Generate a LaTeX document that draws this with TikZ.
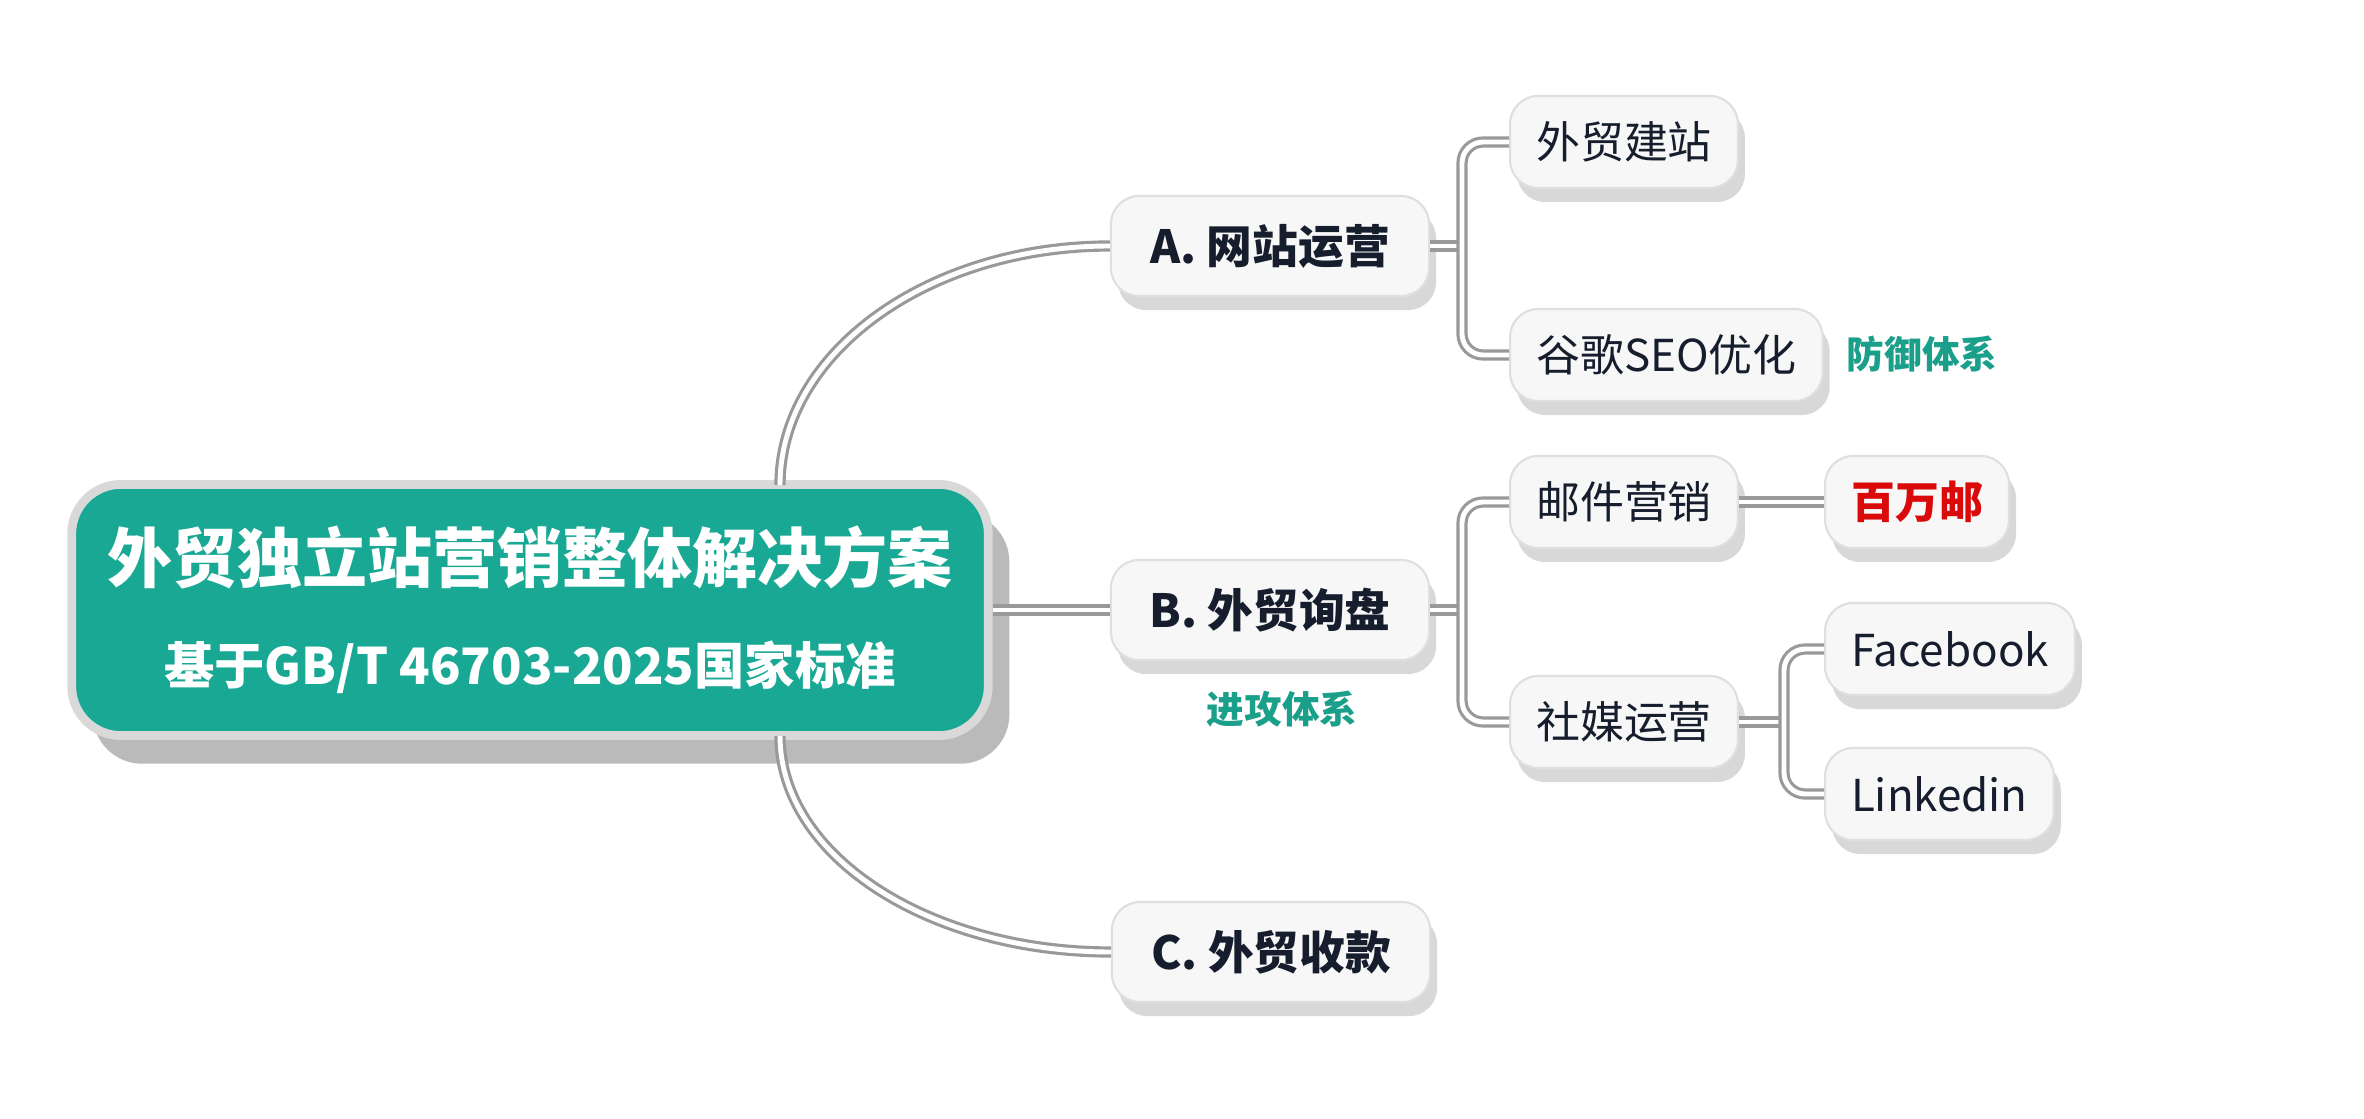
\documentclass[tikz,border=0pt]{standalone}
\usepackage{fontspec}
\setmainfont{Noto Sans CJK SC}
\usetikzlibrary{shadows}
\definecolor{mainteal}{RGB}{24,168,148}
\definecolor{ink}{RGB}{22,30,46}
\definecolor{tagteal}{RGB}{26,160,138}
\definecolor{hotred}{RGB}{218,10,10}
\begin{document}
\begin{tikzpicture}[x=0.01cm,y=-0.01cm,
  box/.style={rounded corners=8pt,fill=white!94!gray,draw=gray!25,line width=0.6pt,drop shadow={shadow xshift=2pt,shadow yshift=-4pt,opacity=0.3,fill=gray}},
  branch/.style={box,minimum width=3.18cm,minimum height=1cm,font=\fontsize{13}{15}\selectfont\bfseries,text=ink},
  leaf/.style={box,anchor=west,inner xsep=0.26cm,minimum height=0.92cm,font=\fontsize{12.5}{15}\selectfont,text=ink},
  tag/.style={font=\fontsize{10.7}{13}\selectfont\bfseries,text=tagteal},
  tube/.style={draw=gray!80,double=white,double distance=1.4pt,line width=0.9pt}]
\path[use as bounding box,fill=white] (0,0) rectangle (2364,1119);
\node[rounded corners=14pt,fill=mainteal,draw=gray!30,line width=2.5pt,minimum width=9.16cm,minimum height=2.51cm,align=center,text=white,font=\fontsize{14.3}{29}\selectfont\bfseries,drop shadow={shadow xshift=6pt,shadow yshift=-8pt,fill=gray!80!black,opacity=0.45}] (main) at (530,610) {{\fontsize{18.5}{29}\selectfont 外贸独立站营销整体解决方案}\\基于GB/T 46703-2025国家标准};
\node[branch] (siteops) at (1270,246) {A. 网站运营};
\node[branch] (inquiry) at (1270,610) {B. 外贸询盘};
\node[branch] (payment) at (1271,952) {C. 外贸收款};
\node[leaf] (build) at (1509,142) {外贸建站};
\node[leaf] (seo) at (1509,355) {谷歌SEO优化};
\node[tag] (defense) at (1922,354) {防御体系};
\node[leaf] (mail) at (1509,502) {邮件营销};
\node[leaf,text=hotred,font=\fontsize{12.5}{15}\selectfont\bfseries] (million) at (1824,502) {百万邮};
\node[leaf] (social) at (1509,722) {社媒运营};
\node[tag] (attack) at (1282,709) {进攻体系};
\node[leaf] (fb) at (1824,649) {Facebook};
\node[leaf] (li) at (1824,794) {Linkedin};
\coordinate (upfoot) at (780,485);
\coordinate (downfoot) at (780,736);
\coordinate (ajoin) at (1462,246);
\coordinate (bjoin) at (1462,610);
\coordinate (sjoin) at (1784,722);
\draw[tube] (upfoot) .. controls +(0,-132) and +(-182,0) .. (siteops.west);
\draw[tube] (downfoot) .. controls +(0,120) and +(-182,0) .. (payment.west);
\draw[tube] (main.east) -- (inquiry.west);
\draw[tube] (siteops.east) -- (ajoin);
\draw[tube,rounded corners=6pt] (build.west) -| (ajoin) |- (seo.west);
\draw[tube] (inquiry.east) -- (bjoin);
\draw[tube,rounded corners=6pt] (mail.west) -| (bjoin) |- (social.west);
\draw[tube] (mail.east) -- (million.west);
\draw[tube] (social.east) -- (sjoin);
\draw[tube,rounded corners=6pt] (fb.west) -| (sjoin) |- (li.west);
\end{tikzpicture}
\end{document}
